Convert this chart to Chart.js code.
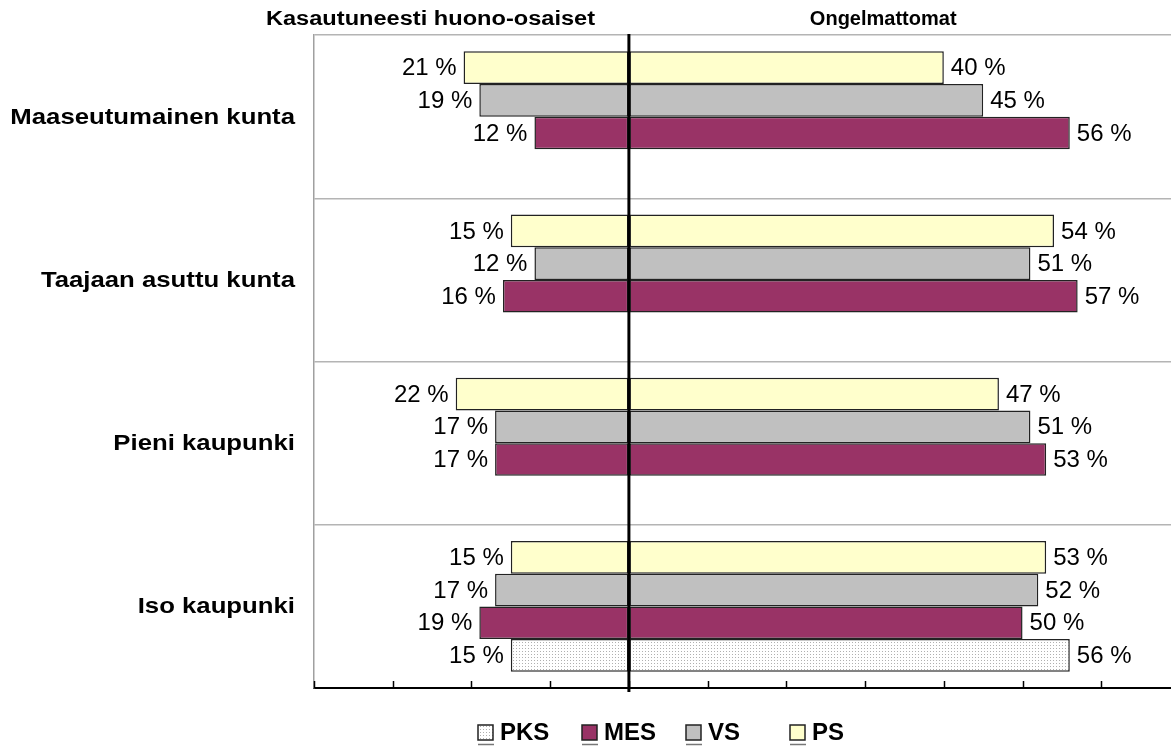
<!DOCTYPE html>
<html>
<head>
<meta charset="utf-8">
<script src="https://cdn.jsdelivr.net/npm/chart.js@4.4.0/dist/chart.umd.min.js"></script>
<style>
  body { margin: 0; background: #fff; overflow: hidden; }
  #kehys { width: 1200px; height: 746px; }
</style>
</head>
<body>
<div id="kehys"><canvas id="kuvio" width="1200" height="746"></canvas></div>
<script>
// DATA
const kategoriat = ["Maaseutumainen kunta", "Taajaan asuttu kunta", "Pieni kaupunki", "Iso kaupunki"];
const sarjat = ["PS", "VS", "MES", "PKS"];
// vasen puoli: kasautuneesti huono-osaiset (%)
const psVasen = [21, 15, 22, 15];
const vsVasen = [19, 12, 17, 17];
const mesVasen = [12, 16, 17, 19];
const pksVasen = [null, null, null, 15];
// oikea puoli: ongelmattomat (%)
const psOikea = [40, 54, 47, 53];
const vsOikea = [45, 51, 51, 52];
const mesOikea = [56, 57, 53, 50];
const pksOikea = [null, null, null, 56];
const otsikot = ["Kasautuneesti huono-osaiset", "Ongelmattomat"];
const seliteJarjestys = ["PKS", "MES", "VS", "PS"];

const CANVAS = document.querySelector("#kuvio");
const ctx = CANVAS.getContext("2d");

// pistekuvio PKS-palkille
function pisteKuvio() {
  const c = document.createElement("canvas");
  c.width = 3; c.height = 3;
  const g = c.getContext("2d");
  g.fillStyle = "#ffffff"; g.fillRect(0, 0, 3, 3);
  g.fillStyle = "#b0b0b0"; g.fillRect(0, 0, 1, 1);
  return ctx.createPattern(c, "repeat");
}

const varit = { PS: "#ffffcc", VS: "#c0c0c0", MES: "#993366", PKS: pisteKuvio() };
const arvot = {
  PS: [psVasen, psOikea],
  VS: [vsVasen, vsOikea],
  MES: [mesVasen, mesOikea],
  PKS: [pksVasen, pksOikea],
};

const datasets = [];
sarjat.forEach((s) => {
  const tyyli = { label: s, stack: s, backgroundColor: varit[s], borderColor: "#222", borderWidth: 1.5, borderSkipped: false };
  datasets.push({ ...tyyli, data: arvot[s][0].map((v) => (v == null ? null : -v)) });
  datasets.push({ ...tyyli, data: arvot[s][1] });
});

const FONTTI = "Arial, 'Liberation Sans', sans-serif";

// leveämpi teksti (alkuperäisessä kirjaimet ovat vaakasuunnassa venytettyjä)
function venytettyTeksti(ctx, teksti, x, y, kerroin) {
  ctx.save();
  ctx.translate(x, y);
  ctx.scale(kerroin, 1);
  ctx.fillText(teksti, 0, 0);
  ctx.restore();
}

const lisat = {
  id: "lisat",
  afterDatasetsDraw(chart) {
    const { ctx, chartArea: a, scales: { x, y } } = chart;
    ctx.save();
    // arvot palkkien päihin
    ctx.font = "24px " + FONTTI;
    ctx.fillStyle = "#000";
    ctx.textBaseline = "middle";
    chart.data.datasets.forEach((ds, i) => {
      chart.getDatasetMeta(i).data.forEach((el, j) => {
        const v = ds.data[j];
        if (v == null) return;
        const teksti = Math.abs(v) + " %";
        if (v < 0) {
          ctx.textAlign = "right";
          ctx.fillText(teksti, el.x - 7, el.y + 1);
        } else {
          ctx.textAlign = "left";
          ctx.fillText(teksti, el.x + 7, el.y + 1);
        }
      });
    });
    // nollaviiva
    const x0 = x.getPixelForValue(0);
    ctx.strokeStyle = "#000";
    ctx.lineWidth = 3;
    ctx.beginPath();
    ctx.moveTo(x0, a.top - 1);
    ctx.lineTo(x0, a.bottom + 4);
    ctx.stroke();
    // jakoviivat x-akselilla (sisäänpäin)
    ctx.lineWidth = 1.5;
    x.ticks.forEach((t) => {
      const px = Math.round(x.getPixelForValue(t.value)) + 0.5;
      ctx.beginPath();
      ctx.moveTo(px, a.bottom);
      ctx.lineTo(px, a.bottom - 7);
      ctx.stroke();
    });
    // luokkien nimet
    ctx.font = "bold 22px " + FONTTI;
    ctx.textAlign = "right";
    kategoriat.forEach((k, i) => {
      venytettyTeksti(ctx, k, a.left - 19, y.getPixelForValue(i) + 1, 1.17);
    });
    ctx.restore();
  },
  afterDraw(chart) {
    const { ctx, scales: { x } } = chart;
    ctx.save();
    // otsikot
    ctx.font = "bold 20px " + FONTTI;
    ctx.fillStyle = "#000";
    ctx.textAlign = "center";
    ctx.textBaseline = "middle";
    venytettyTeksti(ctx, otsikot[0], x.getPixelForValue(-25.2), 19, 1.18);
    ctx.fillText(otsikot[1], x.getPixelForValue(32.3), 19);
    // selite
    ctx.font = "bold 24px " + FONTTI;
    ctx.textAlign = "left";
    seliteJarjestys.forEach((s, i) => {
      const bx = 478 + i * 104;
      const by = 725;
      ctx.fillStyle = varit[s];
      ctx.fillRect(bx, by, 15, 15);
      ctx.strokeStyle = "#222";
      ctx.lineWidth = 1.5;
      ctx.strokeRect(bx, by, 15, 15);
      ctx.strokeStyle = "#777";
      ctx.beginPath();
      ctx.moveTo(bx, 744.5);
      ctx.lineTo(bx + 16, 744.5);
      ctx.stroke();
      ctx.fillStyle = "#000";
      ctx.fillText(s, bx + 22, by + 8);
    });
    ctx.restore();
  },
};

new Chart(CANVAS, {
  type: "bar",
  data: { labels: kategoriat, datasets: datasets },
  options: {
    indexAxis: "y",
    responsive: false,
    animation: false,
    layout: { padding: { top: 35, bottom: 58, left: 0, right: 20 } },
    datasets: { bar: { categoryPercentage: 0.8, barPercentage: 1 } },
    scales: {
      x: {
        stacked: true,
        min: -40,
        max: 70,
        ticks: { display: false, stepSize: 10 },
        grid: { drawOnChartArea: false, drawTicks: false },
        border: { color: "#000", width: 2 },
        afterFit(s) { s.height = 0; },
      },
      y: {
        grid: { offset: true, color: "#b4b4b4", lineWidth: 1.5, drawTicks: false },
        border: { color: "#a0a0a0", width: 1.5 },
        ticks: { display: false },
        afterFit(s) { s.width = 314; },
      },
    },
    plugins: {
      legend: { display: false },
      tooltip: { enabled: false },
    },
  },
  plugins: [lisat],
});
</script>
</body>
</html>
